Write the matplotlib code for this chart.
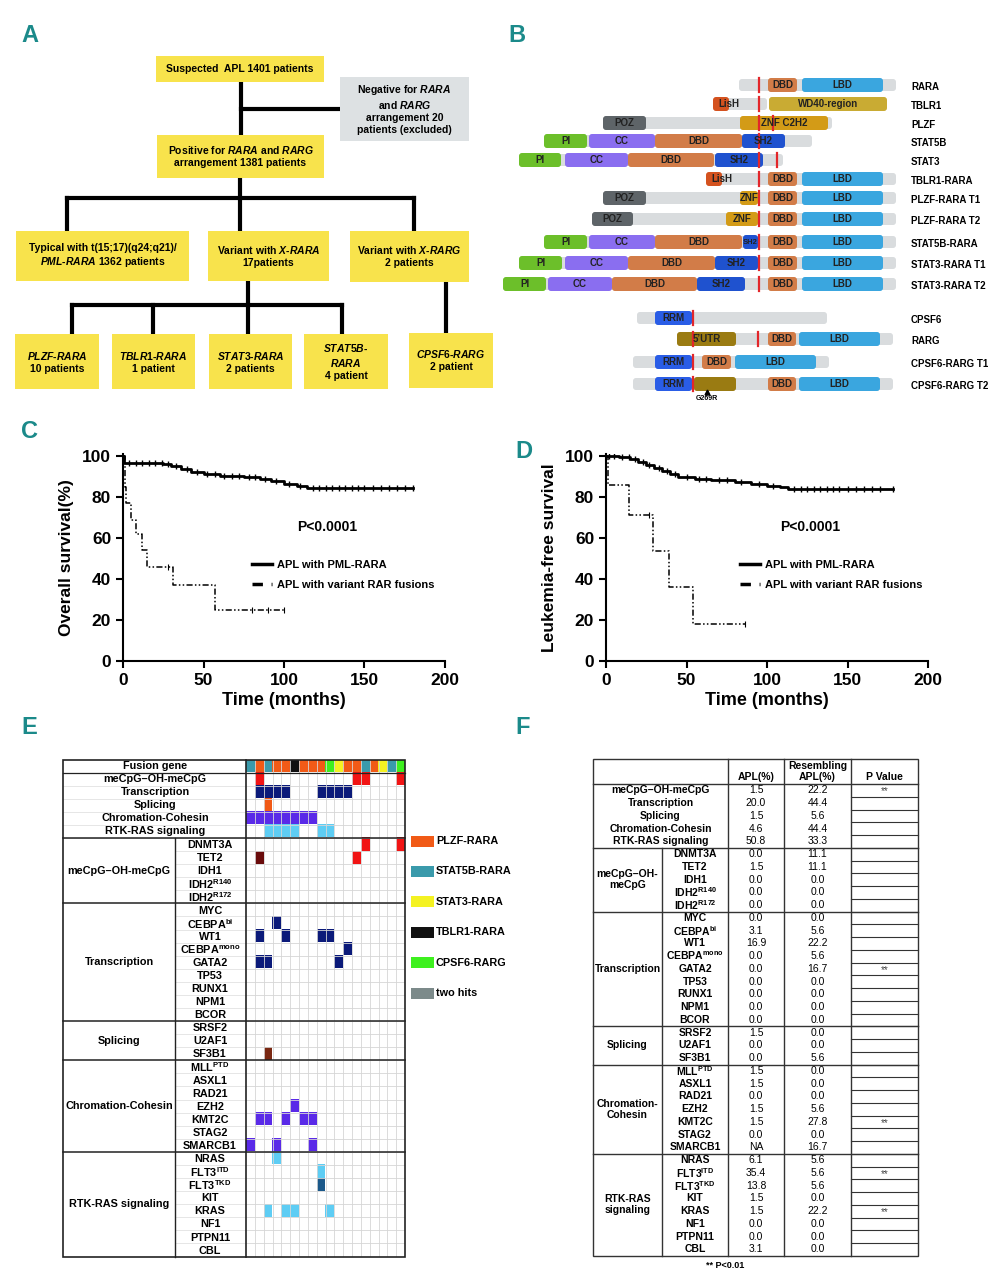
import numpy as np
import matplotlib
matplotlib.use('Agg')
import matplotlib.pyplot as plt
from matplotlib.patches import Rectangle, FancyBboxPatch
from matplotlib.lines import Line2D
from matplotlib.colors import to_rgb

plt.rcParams['font.family'] = ['Liberation Sans', 'DejaVu Sans']
plt.rcParams['mathtext.fontset'] = 'custom'
plt.rcParams['mathtext.rm'] = 'Liberation Sans:bold'
plt.rcParams['mathtext.bf'] = 'Liberation Sans:bold'
plt.rcParams['mathtext.it'] = 'Liberation Sans:bold:italic'

TEAL = '#1b8a8a'
YEL = '#f8e34c'

# ---------------- data ----------------
# A: flow chart boxes (text)
flow_texts = [
    'Suspected  APL 1401 patients',
    'Negative for $\\mathit{RARA}$\nand $\\mathit{RARG}$\narrangement 20\npatients (excluded)',
    'Positive for $\\mathit{RARA}$ and $\\mathit{RARG}$\narrangement 1381 patients',
    'Typical with t(15;17)(q24;q21)/\n$\\mathit{PML}$-$\\mathit{RARA}$ 1362 patients',
    'Variant with $\\mathit{X}$-$\\mathit{RARA}$\n17patients',
    'Variant with $\\mathit{X}$-$\\mathit{RARG}$\n2 patients',
    '$\\mathit{PLZF}$-$\\mathit{RARA}$\n10 patients',
    '$\\mathit{TBLR1}$-$\\mathit{RARA}$\n1 patient',
    '$\\mathit{STAT3}$-$\\mathit{RARA}$\n2 patients',
    '$\\mathit{STAT5B}$-\n$\\mathit{RARA}$\n4 patient',
    '$\\mathit{CPSF6}$-$\\mathit{RARG}$\n2 patient',
]

# C / D: Kaplan-Meier steps (months, %)
os_pml_t = [0, 0.5, 25, 30, 36, 42, 50, 60, 75, 85, 92, 100, 108, 114]
os_pml_s = [100, 96.5, 96, 95, 93.5, 92, 91, 90.5, 90, 89, 88, 86.5, 85.5, 84.5]
os_pml_cens = [4, 8, 12, 16, 20, 24, 28, 33, 40, 46, 52, 57, 63, 68, 72, 78, 82, 88, 95,
               103, 110, 118, 122, 126, 130, 134, 138, 142, 146, 150, 155, 160, 165, 170, 175, 180]
os_var_t = [0, 1, 2, 5, 8, 12, 15, 31, 57]
os_var_s = [100, 85, 77, 69, 62, 54, 46, 37, 25]
os_var_cens = [28, 80, 90, 100]

lfs_pml_t = [0, 8, 15, 20, 25, 30, 35, 40, 45, 55, 65, 80, 90, 100, 108, 113]
lfs_pml_s = [100, 99.5, 98.5, 97, 95.5, 94, 92.5, 91, 90, 89, 88.5, 87.5, 86.5, 85.5, 85, 84]
lfs_pml_cens = [2, 5, 10, 14, 18, 23, 27, 33, 38, 43, 50, 58, 62, 70, 75, 84, 95, 104, 117,
                121, 125, 129, 133, 137, 141, 145, 150, 155, 160, 165, 170, 178]
lfs_var_t = [0, 1, 14, 29, 39, 54]
lfs_var_s = [100, 86, 71.4, 53.6, 35.9, 18.1]
lfs_var_cens = [27, 86.6]

# E: mutation landscape
fusion_cols = ['STAT5B', 'PLZF', 'STAT5B', 'PLZF', 'PLZF', 'TBLR1', 'PLZF', 'PLZF', 'PLZF',
               'CPSF6', 'STAT3', 'PLZF', 'PLZF', 'STAT5B', 'PLZF', 'STAT3', 'STAT5B', 'CPSF6']
fusion_names = ['PLZF-RARA', 'STAT5B-RARA', 'STAT3-RARA', 'TBLR1-RARA', 'CPSF6-RARG', 'two hits']
fusion_keys = ['PLZF', 'STAT5B', 'STAT3', 'TBLR1', 'CPSF6', 'two']
fusion_colors = ['#f15a16', '#3a9aab', '#f4f222', '#111111', '#3ef01f', '#7c8a8a']

group_names = ['meCpG–OH-meCpG', 'Transcription', 'Splicing', 'Chromation-Cohesin', 'RTK-RAS signaling']
group_colors = ['#f11414', '#0b1a7a', '#f15a16', '#5a2ae8', '#5ecdf4']
summary_hits = [[2, 13, 14, 18], [2, 3, 4, 5, 9, 10, 11, 12], [3], [1, 2, 3, 4, 5, 6, 7, 8], [3, 4, 5, 6, 9, 10]]

group_genes = [
    ['DNMT3A', 'TET2', 'IDH1', 'IDH2$^{\\mathrm{R140}}$', 'IDH2$^{\\mathrm{R172}}$'],
    ['MYC', 'CEBPA$^{\\mathrm{bi}}$', 'WT1', 'CEBPA$^{\\mathrm{mono}}$', 'GATA2', 'TP53', 'RUNX1', 'NPM1', 'BCOR'],
    ['SRSF2', 'U2AF1', 'SF3B1'],
    ['MLL$^{\\mathrm{PTD}}$', 'ASXL1', 'RAD21', 'EZH2', 'KMT2C', 'STAG2', 'SMARCB1'],
    ['NRAS', 'FLT3$^{\\mathrm{ITD}}$', 'FLT3$^{\\mathrm{TKD}}$', 'KIT', 'KRAS', 'NF1', 'PTPN11', 'CBL'],
]
gene_hits = [
    [[14, 18], [2, 13], [], [], []],
    [[], [4], [2, 5, 9, 10], [12], [2, 3, 11], [], [], [], []],
    [[], [], [3]],
    [[], [], [], [6], [2, 3, 5, 7, 8], [], [1, 4, 8]],
    [[4], [9], [9], [], [3, 5, 6, 10], [], [], []],
]
dark_cells = [('TET2', 2, '#6a0c0c'), ('SF3B1', 3, '#7a2812'), ('FLT3$^{\\mathrm{TKD}}$', 9, '#1b598a')]

# F: frequency table
f_sum_apl = ['1.5', '20.0', '1.5', '4.6', '50.8']
f_sum_res = ['22.2', '44.4', '5.6', '44.4', '33.3']
f_sum_p = ['**', '', '', '', '']
f_groups = ['meCpG–OH-\nmeCpG', 'Transcription', 'Splicing', 'Chromation-\nCohesin', 'RTK-RAS\nsignaling']
f_apl = ['0.0', '1.5', '0.0', '0.0', '0.0',
         '0.0', '3.1', '16.9', '0.0', '0.0', '0.0', '0.0', '0.0', '0.0',
         '1.5', '0.0', '0.0',
         '1.5', '1.5', '0.0', '1.5', '1.5', '0.0', 'NA',
         '6.1', '35.4', '13.8', '1.5', '1.5', '0.0', '0.0', '3.1']
f_res = ['11.1', '11.1', '0.0', '0.0', '0.0',
         '0.0', '5.6', '22.2', '5.6', '16.7', '0.0', '0.0', '0.0', '0.0',
         '0.0', '0.0', '5.6',
         '0.0', '0.0', '0.0', '5.6', '27.8', '0.0', '16.7',
         '5.6', '5.6', '5.6', '0.0', '22.2', '0.0', '0.0', '0.0']
f_p = ['', '', '', '', '',
       '', '', '', '', '**', '', '', '', '',
       '', '', '',
       '', '', '', '', '**', '', '',
       '', '**', '', '', '**', '', '', '']

# B: protein domains
C_DBD, C_LBD, C_POZ, C_PI = '#d27c48', '#3aa6df', '#5e6468', '#6cbf2a'
C_CC, C_SH2, C_RRM, C_LISH = '#8a6ef0', '#1f52cf', '#2a5de6', '#d4521f'
C_WD40, C_ZNF, C_UTR, C_GREY, C_RED = '#c9ab33', '#d39b17', '#9a7b12', '#d9dcde', '#e3262a'
RARA_TAIL = [('DBD', 768, 797, C_DBD), ('LBD', 802, 883, C_LBD)]
proteins = [
    ('RARA', 85, (739, 896), RARA_TAIL, [759]),
    ('TBLR1', 104, (718, 767), [('LisH', 713, 729, C_LISH), ('WD40-region', 769, 887, C_WD40)], [759]),
    ('PLZF', 123, (603, 832), [('POZ', 603, 646, C_POZ), ('ZNF C2H2', 740, 828, C_ZNF)], [759, 773]),
    ('STAT5B', 141, (544, 812), [('PI', 544, 587, C_PI), ('CC', 589, 655, C_CC), ('DBD', 655, 742, C_DBD),
                                 ('SH2', 742, 785, C_SH2)], [759]),
    ('STAT3', 160, (519, 783), [('PI', 519, 561, C_PI), ('CC', 565, 628, C_CC), ('DBD', 628, 714, C_DBD),
                                ('SH2', 715, 763, C_SH2)], [759, 777]),
    ('TBLR1-RARA', 179, (711, 896), [('LisH', 706, 722, C_LISH)] + RARA_TAIL, [759]),
    ('PLZF-RARA T1', 198, (603, 896), [('POZ', 603, 646, C_POZ), ('ZNF', 740, 758, C_ZNF)] + RARA_TAIL, [759]),
    ('PLZF-RARA T2', 219, (592, 896), [('POZ', 592, 633, C_POZ), ('ZNF', 726, 758, C_ZNF)] + RARA_TAIL, [759]),
    ('STAT5B-RARA', 242, (544, 896), [('PI', 544, 587, C_PI), ('CC', 589, 655, C_CC), ('DBD', 655, 742, C_DBD),
                                      ('SH2', 743, 758, C_SH2)] + RARA_TAIL, [759]),
    ('STAT3-RARA T1', 263, (519, 896), [('PI', 519, 562, C_PI), ('CC', 565, 628, C_CC), ('DBD', 628, 715, C_DBD),
                                        ('SH2', 715, 758, C_SH2)] + RARA_TAIL, [759]),
    ('STAT3-RARA T2', 284, (503, 896), [('PI', 503, 546, C_PI), ('CC', 548, 612, C_CC), ('DBD', 612, 697, C_DBD),
                                        ('SH2', 697, 745, C_SH2)] + RARA_TAIL, [759]),
    ('CPSF6', 318, (637, 827), [('RRM', 655, 692, C_RRM)], [693]),
    ('RARG', 339, (677, 893), [('5’UTR', 677, 736, C_UTR), ('DBD', 768, 796, C_DBD), ('LBD', 799, 880, C_LBD)], [693, 758]),
    ('CPSF6-RARG T1', 362, (633, 829), [('RRM', 655, 692, C_RRM), ('DBD', 702, 731, C_DBD), ('LBD', 735, 816, C_LBD)], [693]),
    ('CPSF6-RARG T2', 384, (633, 893), [('RRM', 655, 692, C_RRM), ('', 694, 736, C_UTR), ('DBD', 768, 796, C_DBD),
                                        ('LBD', 799, 880, C_LBD)], [693]),
]

# ---------------- figure ----------------
fig = plt.figure(figsize=(9.93, 12.8), dpi=100)
W, H = 993.0, 1280.0


def km_axes(left_px, t1, s1, end1, c1, t2, s2, end2, c2, ylabel, leg_x):
    ax = fig.add_axes([left_px / W, 1 - 661 / H, 322 / W, 207 / H])
    ls_var = (0, (4, 1.5, 1, 1.5, 1, 1.5))
    ax.step(list(t1) + [end1], list(s1) + [s1[-1]], where='post', color='k', lw=2)
    lv = [s1[np.searchsorted(t1, c, side='right') - 1] for c in c1]
    ax.plot(c1, lv, ls='none', marker='|', ms=5, mew=1, color='k')
    ax.step(list(t2) + [end2], list(s2) + [s2[-1]], where='post', color='k', lw=1.1, ls=ls_var)
    lv2 = [s2[np.searchsorted(t2, c, side='right') - 1] for c in c2]
    ax.plot(c2, lv2, ls='none', marker='|', ms=4, mew=0.8, color='k')
    ax.set_xlim(0, 200)
    ax.set_ylim(0, 101)
    ax.set_xticks([0, 50, 100, 150, 200])
    ax.set_yticks([0, 20, 40, 60, 80, 100])
    for s in ['top', 'right']:
        ax.spines[s].set_visible(False)
    for s in ['left', 'bottom']:
        ax.spines[s].set_linewidth(1.5)
    ax.tick_params(width=1.5, length=5, labelsize=12.5)
    for lab in ax.get_xticklabels() + ax.get_yticklabels():
        lab.set_fontweight('bold')
    ax.set_xlabel('Time (months)', fontsize=13, fontweight='bold', labelpad=3)
    ax.set_ylabel(ylabel, fontsize=12.5, fontweight='bold', labelpad=6)
    ax.text(127, 65.5, 'P<0.0001', ha='center', va='center', fontsize=10, fontweight='bold')
    handles = [Line2D([], [], color='k', lw=2.5), Line2D([], [], color='k', lw=2.5, ls=(0, (3, 2.5, 1, 2.5)))]
    ax.legend(handles, ['APL with PML-RARA', 'APL with variant RAR fusions'], loc='upper left',
              bbox_to_anchor=(leg_x, 0.49), frameon=False, borderpad=0, borderaxespad=0,
              handlelength=1.8, handletextpad=0.45, labelspacing=0.95,
              prop=dict(weight='bold', size=8))
    return ax


km_axes(123, os_pml_t, os_pml_s, 180, os_pml_cens, os_var_t, os_var_s, 100, os_var_cens,
        'Overall survival(%)', 0.40)
km_axes(606, lfs_pml_t, lfs_pml_s, 178, lfs_pml_cens, lfs_var_t, lfs_var_s, 86.6, lfs_var_cens,
        'Leukemia-free survival', 0.415)

# E heatmap grid
n_rows = 1 + len(group_names) + sum(len(g) for g in group_genes)
n_cols = len(fusion_cols)
E_TOP, E_BOT = 759.5, 1256.5
rh = (E_BOT - E_TOP) / n_rows
hm = fig.add_axes([246 / W, 1 - E_BOT / H, 159 / W, (E_BOT - E_TOP) / H])
img = np.ones((n_rows, n_cols, 3))
fc_map = dict(zip(fusion_keys, fusion_colors))
for j, f in enumerate(fusion_cols):
    img[0, j] = to_rgb(fc_map[f])
for i, hits in enumerate(summary_hits):
    for h in hits:
        img[1 + i, h - 1] = to_rgb(group_colors[i])
gene_labels = []
r = 1 + len(group_names)
for gi, genes in enumerate(group_genes):
    for gname, hits in zip(genes, gene_hits[gi]):
        for h in hits:
            img[r, h - 1] = to_rgb(group_colors[gi])
        gene_labels.append(gname)
        r += 1
for gname, col, c in dark_cells:
    img[1 + len(group_names) + gene_labels.index(gname), col - 1] = to_rgb(c)
hm.imshow(img, aspect='auto', interpolation='nearest', extent=(0, n_cols, n_rows, 0))
for x in range(1, n_cols):
    hm.axvline(x, color='#d6d6d6', lw=0.6)
for y in range(1, n_rows):
    hm.axhline(y, color='#d6d6d6', lw=0.6)
hm.set_xticks([])
hm.set_yticks([])
for s in hm.spines.values():
    s.set_visible(False)

# ---------------- overlay axes in pixel coordinates ----------------
ax = fig.add_axes([0, 0, 1, 1])
ax.set_xlim(0, W)
ax.set_ylim(H, 0)
ax.axis('off')

narrow = ['Liberation Sans Narrow', 'Liberation Sans']
for lt, x, y in [('A', 30, 36), ('B', 517, 36), ('C', 30, 432), ('D', 524, 452), ('E', 29, 728), ('F', 523, 728)]:
    ax.text(x, y, lt, color=TEAL, fontsize=17, fontweight='bold', family=narrow, ha='center', va='center')

# ---- A ----
flow_boxes = [(156, 56, 324, 82), (340, 77, 469, 141), (157, 135, 324, 178),
              (16, 231, 189, 281), (208, 231, 329, 281), (350, 231, 469, 282),
              (15, 334, 99, 389), (112, 334, 195, 389), (209, 334, 292, 389), (304, 334, 388, 389),
              (409, 333, 493, 388)]
flow_links = [[(241, 82), (241, 135)], [(241, 109), (340, 109)], [(240, 178), (240, 198)],
              [(67, 198), (414, 198)], [(67, 198), (67, 231)], [(240, 198), (240, 231)],
              [(414, 198), (414, 231)], [(248, 281), (248, 305)], [(72, 305), (342, 305)],
              [(72, 305), (72, 334)], [(153, 305), (153, 334)], [(248, 305), (248, 334)],
              [(342, 305), (342, 334)], [(446, 282), (446, 333)]]
for seg in flow_links:
    xs, ys = zip(*seg)
    ax.plot(xs, ys, color='k', lw=3, solid_capstyle='projecting', zorder=1)
for i, (txt, (x0, y0, x1, y1)) in enumerate(zip(flow_texts, flow_boxes)):
    fc = '#dde1e3' if i == 1 else YEL
    ax.add_patch(Rectangle((x0, y0), x1 - x0, y1 - y0, fc=fc, ec='none', zorder=2))
    ax.text((x0 + x1) / 2, (y0 + y1) / 2, txt, ha='center', va='center', fontsize=7.5,
            fontweight='bold', linespacing=1.25, zorder=3)

# ---- B ----
for name, y, (g0, g1), doms, reds in proteins:
    ax.add_patch(FancyBboxPatch((g0, y - 6), g1 - g0, 12, boxstyle='round,pad=0,rounding_size=3',
                                fc=C_GREY, ec='none', zorder=2))
    for lab, x0, x1, c in doms:
        ax.add_patch(FancyBboxPatch((x0, y - 7), x1 - x0, 14, boxstyle='round,pad=0,rounding_size=3',
                                    fc=c, ec='none', zorder=3))
        if lab:
            fs = 5.5 if (x1 - x0 < 20 and lab == 'SH2') else 7
            ax.text((x0 + x1) / 2 + (8 if lab == 'LisH' else 0), y, lab, ha='center', va='center',
                    fontsize=fs, fontweight='bold', color='#222222', zorder=5)
    for rx in reds:
        ax.plot([rx, rx], [y - 7, y + 7], color=C_RED, lw=1.6, zorder=4)
    ax.text(911, y + 2, name, ha='left', va='center', fontsize=7, fontweight='bold')
ax.plot([707], [392], marker='^', ms=3.5, color='k', zorder=5)
ax.text(707, 399, 'G269R', ha='center', va='center', fontsize=5, fontweight='bold')

# ---- E labels and frame ----
def erow(k):
    return E_TOP + k * rh


for k in range(1, n_rows):
    if k <= 1 + len(group_names):
        ax.plot([63, 246], [erow(k), erow(k)], color='#dcdcdc', lw=0.5)
    else:
        ax.plot([175, 246], [erow(k), erow(k)], color='#dcdcdc', lw=0.5)
ax.text(155, erow(0.5), 'Fusion gene', ha='center', va='center', fontsize=7.8, fontweight='bold')
for i, g in enumerate(group_names):
    ax.text(155, erow(1.5 + i), g, ha='center', va='center', fontsize=7.8, fontweight='bold')
k0 = 1 + len(group_names)
section_edges = [1, k0]
for gi, genes in enumerate(group_genes):
    ax.text(119, erow(k0 + len(genes) / 2), group_names[gi], ha='center', va='center',
            fontsize=7.8, fontweight='bold')
    for j, gname in enumerate(genes):
        ax.text(210, erow(k0 + j + 0.55), gname, ha='center', va='center', fontsize=7.8, fontweight='bold')
    k0 += len(genes)
    section_edges.append(k0)
for k in section_edges[:-1]:
    ax.plot([63, 405], [erow(k), erow(k)], color='#222222', lw=1.1 if k > 1 else 0.9, zorder=6)
ax.add_patch(Rectangle((63, E_TOP), 342, E_BOT - E_TOP, fc='none', ec='#222222', lw=1.2, zorder=6))
ax.plot([246, 246], [E_TOP, E_BOT], color='#222222', lw=1.2, zorder=6)
ax.plot([175, 175], [erow(1 + len(group_names)), E_BOT], color='#222222', lw=1.0, zorder=6)

for i, (nm, c) in enumerate(zip(fusion_names, fusion_colors)):
    yc = 841 + i * 30.4
    ax.add_patch(Rectangle((411, yc - 5.5), 23, 11, fc=c, ec='none'))
    ax.text(436, yc, nm, ha='left', va='center', fontsize=7.8, fontweight='bold')

# ---- F table ----
FX = [593, 662, 728, 784, 851, 918]
F_TOP, F_HB = 759, 784
frh = 12.75


def frow(k):
    return F_HB + k * frh


n_f = len(f_sum_apl) + len(f_apl)
F_BOT = frow(n_f)
ax.add_patch(Rectangle((FX[0], F_TOP), FX[-1] - FX[0], F_BOT - F_TOP, fc='none', ec='#333333', lw=1.0))
for x in FX[2:5]:
    ax.plot([x, x], [F_TOP, F_BOT], color='#333333', lw=1.0)
ax.plot([FX[1], FX[1]], [frow(5), F_BOT], color='#333333', lw=1.0)
ax.plot([FX[0], FX[-1]], [F_HB, F_HB], color='#333333', lw=1.0)
for k in range(1, n_f):
    ax.plot([FX[4], FX[5]], [frow(k), frow(k)], color='#333333', lw=0.8)
ax.text(756, 777, 'APL(%)', ha='center', va='center', fontsize=7.5, fontweight='bold')
ax.text(817.5, 771.5, 'Resembling\nAPL(%)', ha='center', va='center', fontsize=7.5, fontweight='bold',
        linespacing=1.1)
ax.text(884.5, 777, 'P Value', ha='center', va='center', fontsize=7.5, fontweight='bold')
for i, g in enumerate(group_names):
    yc = frow(i + 0.5)
    ax.text(660.5, yc, g, ha='center', va='center', fontsize=7.5, fontweight='bold')
    ax.text(756, yc, f_sum_apl[i], ha='center', va='center', fontsize=7.5)
    ax.text(817.5, yc, f_sum_res[i], ha='center', va='center', fontsize=7.5)
    ax.text(884.5, yc + 1, f_sum_p[i], ha='center', va='center', fontsize=7, color='#444444')
k = len(group_names)
idx = 0
for gi, genes in enumerate(group_genes):
    ax.plot([FX[0], FX[-1]], [frow(k), frow(k)], color='#333333', lw=1.0)
    ax.text(627.5, frow(k + len(genes) / 2), f_groups[gi], ha='center', va='center', fontsize=7.5,
            fontweight='bold', linespacing=1.1)
    for j, gname in enumerate(genes):
        yc = frow(k + j + 0.5)
        ax.text(695, yc, gname, ha='center', va='center', fontsize=7.5, fontweight='bold')
        ax.text(756, yc, f_apl[idx], ha='center', va='center', fontsize=7.5)
        ax.text(817.5, yc, f_res[idx], ha='center', va='center', fontsize=7.5)
        ax.text(884.5, yc + 1, f_p[idx], ha='center', va='center', fontsize=7, color='#444444')
        idx += 1
    k += len(genes)
ax.text(725, 1266, '** P<0.01', ha='center', va='center', fontsize=6.5, fontweight='bold')

fig.savefig('out.png', dpi=100)
